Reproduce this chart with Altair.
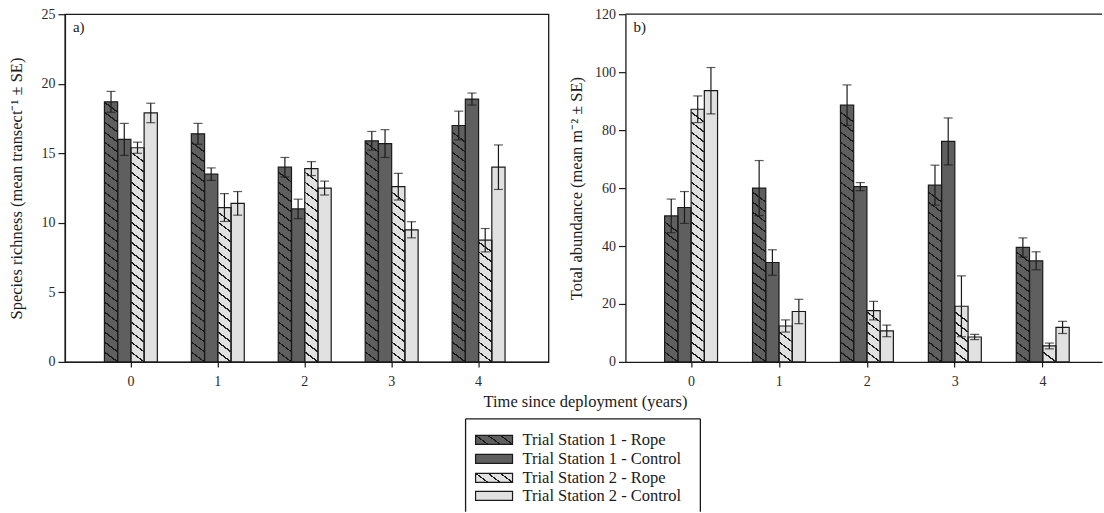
import altair as alt
import pandas as pd

years = ["0", "1", "2", "3", "4"]
series = ["Trial Station 1 - Rope", "Trial Station 1 - Control",
          "Trial Station 2 - Rope", "Trial Station 2 - Control"]
fills = ["#5f5f5f", "#5f5f5f", "#e1e1e1", "#e1e1e1"]
hatched = [True, False, True, False]

# a) Species richness (mean transect^-1 +- SE)
rich_s1_rope = [18.7, 16.4, 14.0, 15.9, 17.0]
rich_s1_rope_se = [0.75, 0.75, 0.7, 0.67, 1.03]
rich_s1_ctrl = [16.0, 13.5, 11.0, 15.7, 18.9]
rich_s1_ctrl_se = [1.15, 0.45, 0.7, 1.0, 0.43]
rich_s2_rope = [15.4, 11.1, 13.9, 12.6, 8.75]
rich_s2_rope_se = [0.4, 1.0, 0.5, 0.96, 0.84]
rich_s2_ctrl = [17.9, 11.4, 12.5, 9.5, 14.0]
rich_s2_ctrl_se = [0.7, 0.85, 0.5, 0.58, 1.6]

# b) Total abundance (mean m^-2 +- SE)
abun_s1_rope = [50.4, 60.0, 88.6, 61.0, 39.5]
abun_s1_rope_se = [5.8, 9.5, 7.0, 6.9, 3.3]
abun_s1_ctrl = [53.3, 34.3, 60.5, 76.1, 34.9]
abun_s1_ctrl_se = [5.5, 4.4, 1.4, 8.1, 3.1]
abun_s2_rope = [87.2, 12.4, 17.7, 19.2, 5.5]
abun_s2_rope_se = [4.6, 2.1, 3.2, 10.5, 1.0]
abun_s2_ctrl = [93.6, 17.4, 10.7, 8.6, 11.9]
abun_s2_ctrl_se = [8.0, 4.2, 2.0, 0.9, 2.1]

FONT = "Liberation Serif"
INK = "#1a1a1a"
TR = "rgba(0,0,0,0)"
HATCH = {"gradient": "linear", "x1": 0, "y1": 1, "x2": 1, "y2": 0,
         "stops": [{"offset": 0, "color": TR}, {"offset": 0.46, "color": TR},
                   {"offset": 0.46, "color": INK}, {"offset": 0.54, "color": INK},
                   {"offset": 0.54, "color": TR}, {"offset": 1, "color": TR}]}


def table(means, ses):
    rows = []
    for s, m, e in zip(series, means, ses):
        for yr, v, se in zip(years, m, e):
            rows.append({"year": yr, "series": s, "value": v, "lo": v - se, "hi": v + se})
    return pd.DataFrame(rows)


def hatch_table(df, step):
    rows = []
    for _, r in df.iterrows():
        if not hatched[series.index(r["series"])]:
            continue
        k = 0
        while (k + 1) * step <= r["value"] + 1e-9:
            rows.append({"year": r["year"], "series": r["series"],
                         "y0": k * step, "y1": (k + 1) * step})
            k += 1
    return pd.DataFrame(rows)


def panel(df, step, ymax, ystep, ytitle, label, width, pin, pout, align, tpad, boxed, extra=()):
    xs = alt.X("year:N", sort=years, title=None,
               scale=alt.Scale(paddingInner=pin, paddingOuter=pout, align=align),
               axis=alt.Axis(labelAngle=0, tickSize=5, labelPadding=8))
    xo = alt.XOffset("series:N", sort=series,
                     scale=alt.Scale(domain=series, paddingInner=0, paddingOuter=0))
    ysc = alt.Scale(domain=[0, ymax], nice=False)
    yax = alt.Axis(values=list(range(0, ymax + 1, ystep)), tickSize=7, labelPadding=3,
                   grid=False, titlePadding=tpad)

    def Y(f):
        return alt.Y(f, title=ytitle, scale=ysc, axis=yax)

    hdf = hatch_table(df, step)
    base = alt.Chart(df).mark_bar(strokeWidth=0).encode(
        x=xs, xOffset=xo, y=Y("value:Q"),
        fill=alt.Fill("series:N", scale=alt.Scale(domain=series, range=fills), legend=None))
    hatch = alt.Chart(hdf).mark_bar(fill=HATCH, strokeWidth=0).encode(
        x=xs, xOffset=xo, y=Y("y0:Q"), y2="y1:Q")
    outline = alt.Chart(df).mark_bar(fillOpacity=0, stroke=INK, strokeWidth=1.2).encode(
        x=xs, xOffset=xo, y=Y("value:Q"))
    err = alt.Chart(df).mark_rule(color=INK, strokeWidth=1.2).encode(
        x=xs, xOffset=xo, y=Y("lo:Q"), y2="hi:Q")
    cap_hi = alt.Chart(df).mark_tick(color=INK, thickness=1.2, size=9).encode(
        x=xs, xOffset=xo, y=Y("hi:Q"))
    cap_lo = alt.Chart(df).mark_tick(color=INK, thickness=1.2, size=9).encode(
        x=xs, xOffset=xo, y=Y("lo:Q"))
    lab = alt.Chart(pd.DataFrame({"t": [label]})).mark_text(
        align="left", baseline="middle", font=FONT, fontSize=15, color=INK).encode(
        x=alt.value(8), y=alt.value(13), text="t:N")
    layers = [base, hatch, outline, err, cap_hi, cap_lo, lab]
    if not boxed:
        top = alt.Chart(pd.DataFrame({"t": [0]})).mark_rule(color=INK, strokeWidth=1.3).encode(
            x=alt.value(0), x2=alt.value(width), y=alt.value(0))
        layers.append(top)
    layers.extend(extra)
    ch = alt.layer(*layers).properties(width=width, height=348)
    if not boxed:
        ch = ch.properties(view=alt.ViewBackground(stroke="transparent"))
    return ch


# ---- legend and shared x title (pixel layout relative to left panel origin) ----
one = pd.DataFrame({"t": [0]})
legend_layers = []
legend_layers.append(alt.Chart(pd.DataFrame({"t": ["Time since deployment (years)"]})).mark_text(
    align="center", baseline="middle", font=FONT, fontSize=16.5, color=INK).encode(
    x=alt.value(521), y=alt.value(388), text="t:N"))
BX0, BX1, BY0, BY1 = 401, 636, 405, 498
legend_layers.append(alt.Chart(one).mark_rule(color=INK, strokeWidth=1.3).encode(
    x=alt.value(BX0), x2=alt.value(BX1), y=alt.value(BY0)))
legend_layers.append(alt.Chart(one).mark_rule(color=INK, strokeWidth=1.3).encode(
    x=alt.value(BX0), y=alt.value(BY0), y2=alt.value(BY1)))
legend_layers.append(alt.Chart(one).mark_rule(color=INK, strokeWidth=1.3).encode(
    x=alt.value(BX1), y=alt.value(BY0), y2=alt.value(BY1)))
row_y = [426, 445, 464, 482]
SX0, SX1, SH = 411, 448, 9
for i, s in enumerate(series):
    c = row_y[i]
    d = pd.DataFrame({"s": [s]})
    legend_layers.append(alt.Chart(d).mark_rect(fill=fills[i], strokeWidth=0).encode(
        x=alt.value(SX0), x2=alt.value(SX1), y=alt.value(c - SH / 2), y2=alt.value(c + SH / 2)))
    if hatched[i]:
        seg = (SX1 - SX0) / 3
        for k in range(3):
            legend_layers.append(alt.Chart(d).mark_rect(fill=HATCH, strokeWidth=0).encode(
                x=alt.value(SX0 + k * seg), x2=alt.value(SX0 + (k + 1) * seg),
                y=alt.value(c - SH / 2), y2=alt.value(c + SH / 2)))
    legend_layers.append(alt.Chart(d).mark_rect(fillOpacity=0, stroke=INK, strokeWidth=1.2).encode(
        x=alt.value(SX0), x2=alt.value(SX1), y=alt.value(c - SH / 2), y2=alt.value(c + SH / 2)))
    legend_layers.append(alt.Chart(d).mark_text(
        align="left", baseline="middle", font=FONT, fontSize=16.5, color=INK).encode(
        x=alt.value(458), y=alt.value(c), text="s:N"))

rich = table([rich_s1_rope, rich_s1_ctrl, rich_s2_rope, rich_s2_ctrl],
             [rich_s1_rope_se, rich_s1_ctrl_se, rich_s2_rope_se, rich_s2_ctrl_se])
abun = table([abun_s1_rope, abun_s1_ctrl, abun_s2_rope, abun_s2_ctrl],
             [abun_s1_rope_se, abun_s1_ctrl_se, abun_s2_rope_se, abun_s2_ctrl_se])

left = panel(rich, 10 / 13.92, 25, 5, "Species richness (mean transect⁻¹ ± SE)", "a)",
             484, 0.391, 0.477, 0.476, 16, True, legend_layers)
right = panel(abun, 10 / 2.9, 120, 20, "Total abundance (mean m⁻² ± SE)", "b)",
              477, 0.391, 0.406, 0.549, 10, False)

chart = alt.hconcat(left, right, spacing=77, bounds="flush").properties(
    padding={"left": 8, "top": 6, "right": 0, "bottom": 0},
    background="white"
).configure_view(stroke=INK, strokeWidth=1.3).configure_axis(
    domainColor=INK, domainWidth=1.3, tickColor=INK, tickWidth=1.2,
    labelFont=FONT, labelFontSize=14, labelColor="#2a2a2a",
    titleFont=FONT, titleFontSize=16.5, titleFontWeight="normal", titleColor=INK
)

chart.save("out.html", embed_options={"renderer": "svg", "actions": False})
